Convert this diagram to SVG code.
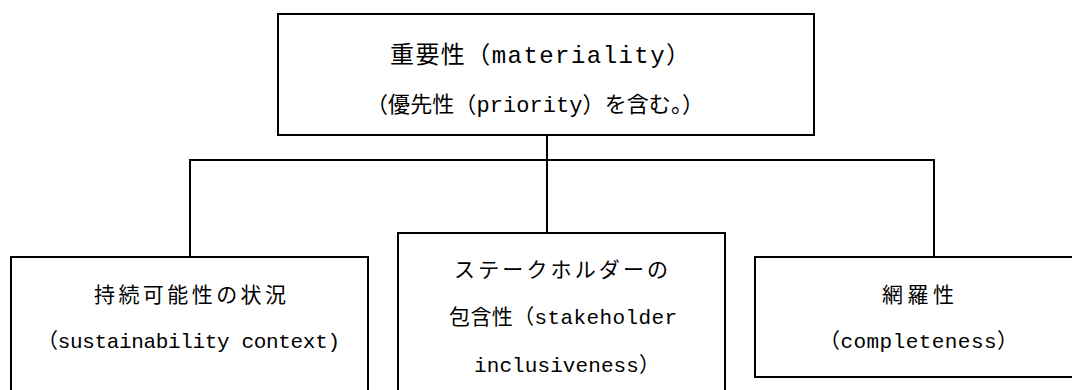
<svg xmlns="http://www.w3.org/2000/svg" width="1072" height="390" viewBox="0 0 1072 390">
<style>
.box{fill:#fff;stroke:#000;stroke-width:2}
.con{fill:none;stroke:#000;stroke-width:2}
text{font-family:"Liberation Mono","Noto Sans CJK JP",monospace;fill:#000}
.t1{font-size:24px}
.t2{font-size:22px}
.t3{font-size:21px}
</style>
<rect width="1072" height="390" fill="#fff"/>
<g id="connectors">
<line class="con" x1="547" y1="135" x2="547" y2="233"/>
<polyline class="con" points="190,257 190,160 934,160 934,257"/>
</g>
<g id="materiality">
<rect class="box" x="278" y="14" width="536" height="121"/>
<text class="t1" x="390" y="63" textLength="300" lengthAdjust="spacing">重要性（materiality）</text>
<text class="t2" x="366" y="112" textLength="338" lengthAdjust="spacing">（優先性（priority）を含む。）</text>
</g>
<g id="sustainability">
<rect class="box" x="11" y="257" width="357" height="140"/>
<text class="t3" x="94" y="302" textLength="192" lengthAdjust="spacing">持続可能性の状況</text>
<text class="t3" x="37" y="348" textLength="303" lengthAdjust="spacing">（sustainability context)</text>
</g>
<g id="stakeholder">
<rect class="box" x="398" y="233" width="327" height="165"/>
<text class="t3" x="454" y="277" textLength="214" lengthAdjust="spacing">ステークホルダーの</text>
<text class="t3" x="449" y="324" textLength="228" lengthAdjust="spacing">包含性（stakeholder</text>
<text class="t3" x="474" y="372" textLength="186" lengthAdjust="spacing">inclusiveness）</text>
</g>
<g id="completeness">
<rect class="box" x="755" y="257" width="330" height="120"/>
<text class="t3" x="882" y="302" textLength="72" lengthAdjust="spacing">網羅性</text>
<text class="t3" x="819" y="348" textLength="199" lengthAdjust="spacing">（completeness）</text>
</g>
</svg>
